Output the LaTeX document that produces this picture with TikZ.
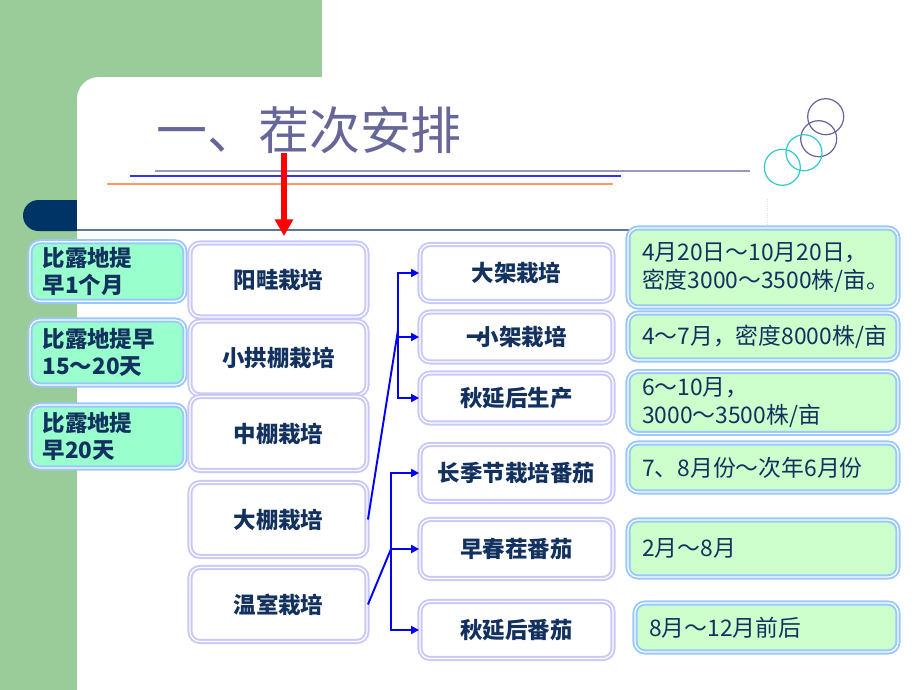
\documentclass[tikz,border=0pt]{standalone}
\usepackage{fontspec}
\setmainfont{Noto Sans CJK SC}
\usepackage[HTML]{xcolor}
\usetikzlibrary{arrows.meta}

\definecolor{bggreen}{HTML}{99CC99}
\definecolor{pillnavy}{HTML}{003366}
\definecolor{titlepurple}{HTML}{666699}
\definecolor{inknavy}{HTML}{13315F}
\definecolor{aqua}{HTML}{99FFCC}
\definecolor{mint}{HTML}{CCFFCC}
\definecolor{lav}{HTML}{C8C8FA}
\definecolor{skyline}{HTML}{99C8FF}
\definecolor{ringteal}{HTML}{33CCCC}
\definecolor{ruleorange}{HTML}{FF9966}
\definecolor{rulegrey}{HTML}{9999BB}
\definecolor{steel}{HTML}{5A7896}

\begin{document}
\begin{tikzpicture}[x=0.02cm, y=-0.02cm,
  boxframe/.style={double=white, double distance=0.7pt, line width=1.1pt, rounded corners=0.2cm},
  earlybox/.style={boxframe, draw=skyline, fill=aqua, text=inknavy,
    font=\bfseries\fontsize{12.8}{15}\selectfont, align=left, text width=2.6cm,
    inner xsep=0.25cm, minimum height=#1},
  stagebox/.style={boxframe, draw=lav, fill=white, text=inknavy,
    font=\bfseries\fontsize{12.8}{15}\selectfont, minimum width=3.54cm, minimum height=1.48cm},
  modebox/.style={boxframe, draw=lav, fill=white, text=inknavy,
    font=\bfseries\fontsize{12.8}{15}\selectfont, minimum width=3.86cm, minimum height=#1},
  notebox/.style={boxframe, draw=skyline, fill=mint, text=inknavy,
    font=\fontsize{13}{16}\selectfont, align=left, text width=4.84cm,
    inner xsep=0.28cm, minimum height=#1},
  branch/.style={blue, line width=1.1pt},
  branchto/.style={branch, -{Triangle[length=4.5pt,width=4.5pt]}}]

\useasboundingbox (0,0) rectangle (920,690);

% --- slide background ---
\fill[white] (0,0) rectangle (920,690);
\fill[bggreen] (0,0) rectangle (322,120);
\fill[bggreen] (0,0) rectangle (77,690);
\fill[pillnavy, rounded corners=0.31cm] (23,200) rectangle (110,231);
\fill[white, rounded corners=0.44cm] (77,77) rectangle (420,320);
\draw[steel, line width=0.8pt] (77,230) -- (767,230);
\draw[lav!60, densely dotted, line width=0.3pt] (767,199) -- (767,230);

% --- title and rules ---
\node[text=titlepurple, font=\fontsize{29}{34}\selectfont, anchor=west] (title) at (150,130) {一、茬次安排};
\draw[rulegrey, line width=1.6pt] (155,171) -- (750,171);
\draw[blue!80, line width=0.9pt] (130,176) -- (621,176);
\draw[ruleorange, line width=1.2pt] (107,184) -- (613,184);

% --- rings ---
\draw[titlepurple, line width=0.7pt] (825.7,116.7) circle (0.36cm);
\draw[titlepurple, line width=0.7pt] (818.7,138.7) circle (0.36cm);
\draw[ringteal, line width=0.7pt] (804,152.7) circle (0.36cm);
\draw[ringteal, line width=0.7pt] (782.3,167.3) circle (0.36cm);

% --- earlier than open field ---
\node[earlybox=1.14cm] (e1) at (107.5,271.5) {比露地提\\早1个月};
\node[earlybox=1.3cm] (e2) at (107.5,352.5) {比露地提早\\15～20天};
\node[earlybox=1.26cm] (e3) at (107.5,436.5) {比露地提\\早20天};

% --- growing facilities ---
\node[stagebox] (yq) at (278.5,280) {阳畦栽培};
\node[stagebox] (xg) at (278.5,358) {小拱棚栽培};
\node[stagebox] (zp) at (278.5,433.5) {中棚栽培};
\node[stagebox] (dp) at (278.5,519.5) {大棚栽培};
\node[stagebox] (ws) at (278.5,604.5) {温室栽培};

\coordinate (arr) at (284,153);
\draw[red, line width=3.2pt, -{Triangle[length=9.5pt,width=10pt]}, shorten >=0.12cm] (arr) -- (arr |- yq.north);

% --- cropping modes ---
\node[modebox=1.14cm] (dj) at (516.5,273) {大架栽培};
\node[modebox=1.0cm] (xj) at (516.5,337) {一\kern-0.55em 小架栽培};
\node[modebox=1.0cm] (qs) at (516.5,398) {秋延后生产};
\node[modebox=1.14cm] (cj) at (516.5,473) {长季节栽培番茄};
\node[modebox=1.18cm] (zc) at (516.5,549) {早春茬番茄};
\node[modebox=1.14cm] (qf) at (516.5,630) {秋延后番茄};

\coordinate (j1) at (398,330);
\draw[branch] (dp.east) -- (j1);
\draw[branchto] (j1) |- (dj.west);
\draw[branchto] (j1) |- (xj.west);
\draw[branchto] (j1) |- (qs.west);

\coordinate (j2) at (391,549);
\draw[branch] (ws.east) -- (j2);
\draw[branchto] (j2) |- (cj.west);
\draw[branchto] (j2) -- (zc.west);
\draw[branchto] (j2) |- (qf.west);

% --- timing and density ---
\node[notebox=1.58cm] (t1) at (763,267.5) {4月20日～10月20日，\\密度3000～3500株/亩。};
\node[notebox=0.94cm] (t2) at (763,336.5) {4～7月，密度8000株/亩};
\node[notebox=1.1cm] (t3) at (763,402.5) {6～10月，\\3000～3500株/亩};
\node[notebox=0.98cm] (t4) at (763,467.5) {7、8月份～次年6月份};
\node[notebox=1.14cm] (t5) at (763,548.5) {2月～8月};
\node[notebox=0.98cm, text width=4.7cm] (t6) at (766.5,627.5) {8月～12月前后};

\end{tikzpicture}
\end{document}
